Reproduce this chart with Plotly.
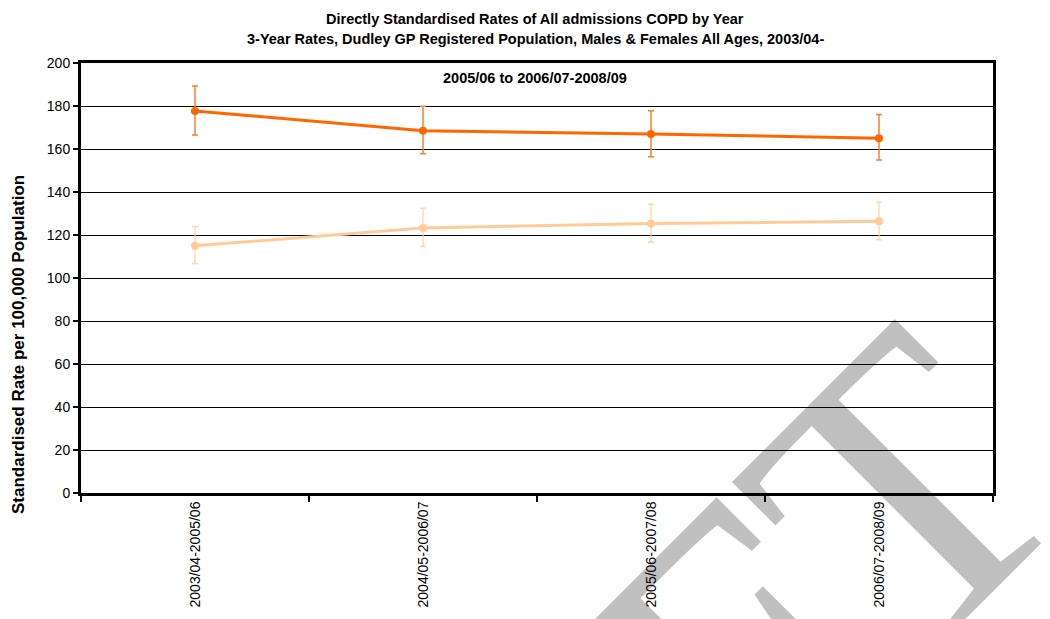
import plotly.graph_objects as go

categories = ["2003/04-2005/06", "2004/05-2006/07", "2005/06-2007/08", "2006/07-2008/09"]

rate_dark = [177.7, 168.5, 167.0, 165.0]
upper_dark = [189.3, 179.9, 177.8, 176.0]
lower_dark = [166.5, 157.8, 156.4, 154.9]

rate_light = [115.0, 123.3, 125.3, 126.4]
upper_light = [123.9, 132.4, 134.3, 135.3]
lower_light = [106.8, 114.6, 116.6, 117.8]

y_ticks = list(range(0, 201, 20))

title_lines = [
    "Directly Standardised Rates of All admissions COPD by Year",
    "3-Year Rates, Dudley GP Registered Population, Males & Females All Ages, 2003/04-",
    "2005/06 to 2006/07-2008/09",
]
y_title = "Standardised Rate per 100,000 Population"
watermark = "DRAFT"

FONT = "Liberation Sans, Arial, sans-serif"

fig = go.Figure()


def add_series(vals, up, lo, color, err_color):
    fig.add_trace(go.Scatter(
        x=categories, y=vals, mode="lines+markers",
        line=dict(color=color, width=3),
        marker=dict(color=color, size=8),
        error_y=dict(type="data", symmetric=False,
                     array=[u - v for u, v in zip(up, vals)],
                     arrayminus=[v - l for v, l in zip(vals, lo)],
                     color=err_color, thickness=1.5, width=3),
        showlegend=False,
    ))


add_series(rate_dark, upper_dark, lower_dark, "#FF6600", "#FF7F2A")
add_series(rate_light, upper_light, lower_light, "#FFCC99", "rgba(255,204,153,0.75)")

# page offset of the figure inside the html body (default 8px body margin)
OFF = 8
W, H = 1050 - OFF, 619 - OFF
PL, PR, PT, PB = 81, 993, 63, 493  # plot area in page pixels
L, T = PL - OFF, PT - OFF
R, B = W - (PR - OFF), H - (PB - OFF)
pw, ph = PR - PL, PB - PT


def px(xp):
    return (xp - PL) / pw


def py(yp):
    return (PB - yp) / ph


annotations = []
for txt, yp in zip(title_lines, [19, 39, 78]):
    annotations.append(dict(text="<b>" + txt + "</b>", x=px(535), y=py(yp),
                            xref="paper", yref="paper", xanchor="center", yanchor="middle",
                            showarrow=False, font=dict(family=FONT, size=14.5, color="black")))
annotations.append(dict(text="<b>" + y_title + "</b>", x=px(19), y=py(345),
                        xref="paper", yref="paper", xanchor="center", yanchor="middle",
                        textangle=-90, showarrow=False,
                        font=dict(family=FONT, size=17, color="black")))

wx, wy = 495, 837
fig.update_layout(
    width=W, height=H,
    margin=dict(l=L, r=R, t=T, b=B),
    paper_bgcolor="white",
    plot_bgcolor="rgba(0,0,0,0)",
    font=dict(family=FONT, size=12, color="black"),
    annotations=annotations,
    shapes=[dict(type="rect", xref="paper", yref="paper",
                 x0=px(wx) - 0.001, x1=px(wx) + 0.001, y0=py(wy) - 0.001, y1=py(wy) + 0.001,
                 line=dict(width=0), fillcolor="rgba(0,0,0,0)", layer="below",
                 label=dict(text=watermark, textangle=-45,
                            textposition="middle center",
                            font=dict(family="Liberation Serif, Times New Roman, serif",
                                      size=400, color="#C0C0C0")))],
)

fig.update_xaxes(
    type="category", range=[-0.5, 3.5],
    tickson="boundaries", ticks="outside", ticklen=6, tickwidth=1.5, tickcolor="black",
    tickangle=-90, tickfont=dict(family=FONT, size=14, color="black"),
    showline=True, linecolor="black", linewidth=3, mirror=True,
    showgrid=False, zeroline=False,
)
fig.update_yaxes(
    range=[0, 200], tickmode="array", tickvals=y_ticks,
    ticks="outside", ticklen=5, tickwidth=1.5, tickcolor="black",
    tickfont=dict(family=FONT, size=14, color="black"),
    showline=True, linecolor="black", linewidth=3, mirror=True,
    showgrid=True, gridcolor="black", gridwidth=1, zeroline=False,
)

fig.write_html("out.html")
